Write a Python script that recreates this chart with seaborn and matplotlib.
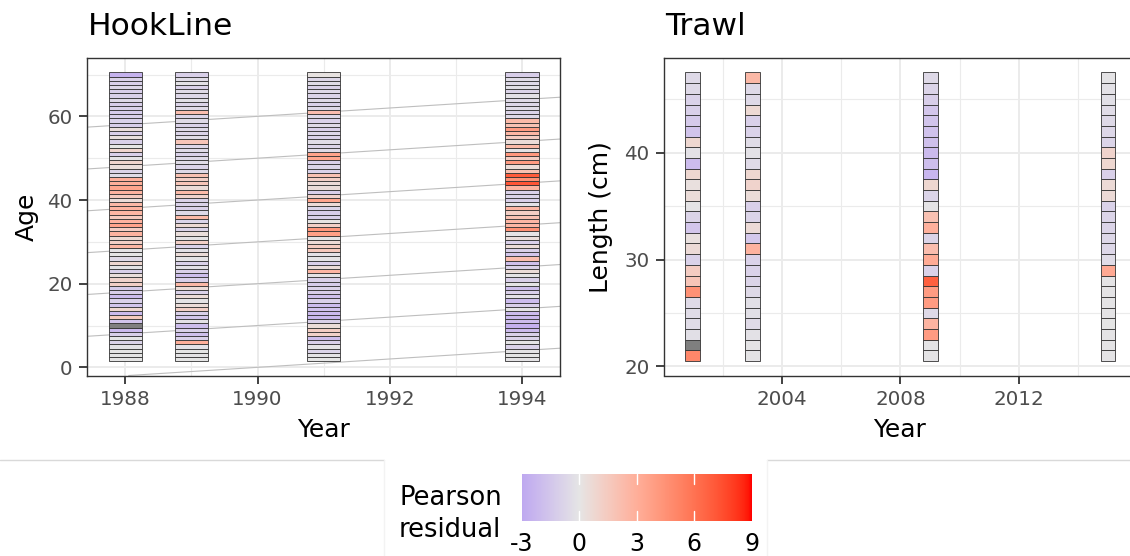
import numpy as np
import pandas as pd
import matplotlib
matplotlib.use("Agg")
import matplotlib.pyplot as plt
from matplotlib.colors import ListedColormap, Normalize
from matplotlib.ticker import MultipleLocator
from matplotlib.lines import Line2D
import seaborn as sns

# ---------------------------------------------------------------- data
hook_years = [1988, 1989, 1991, 1994]
hook_ages = list(range(2, 71))
# Pearson residuals by age (2 .. 70)
hook_1988 = [0.0, 0.0, 0.0, -0.2, -0.9, 0.0, -1.0, -2.1, -3.6,
             -1.6, 1.5, -2.1, 0.8, -1.6, -1.0, -2.0, -1.1, -1.2, 1.2,
             1.0, 0.4, -1.0, -0.1, 0.8, -0.5, 0.0, -0.1, 2.6, 1.2,
             0.7, 2.8, 1.4, 3.6, 2.8, 1.5, 2.6, 2.7, 2.5, 0.5,
             1.5, 2.8, 3.5, 3.0, 2.9, -0.4, -0.8, 0.4, 0.9, -0.1,
             -1.0, 0.9, 0.0, -1.0, 0.3, -1.0, 0.4, -1.1, -0.9, -1.0,
             -1.2, -0.9, -1.1, -0.6, -1.0, -1.1, -0.7, -1.0, -0.9, -2.5]
hook_1989 = [0.0, -0.1, 0.0, -0.2, 3.0, -1.0, -1.8, -1.0, -1.9,
             -0.2, -1.5, -1.0, 1.2, 0.5, -0.1, 0.5, -0.9, 0.5, 2.5,
             -1.0, -1.9, -1.0, -0.2, -0.9, -0.1, 0.5, -0.2, -0.9, 1.2,
             -0.1, 0.4, -0.8, 0.7, -0.8, 2.4, -0.6, -1.0, -0.9, -0.9,
             1.0, 2.4, 0.5, 1.8, 1.2, 2.0, -0.6, -0.8, -0.4, -0.6,
             -0.9, -0.5, -0.7, 1.8, -0.4, -0.8, -0.6, -0.9, -0.5, -0.8,
             2.2, -0.5, -0.8, -0.3, -0.7, -0.5, -0.9, -0.2, -0.4, -1.0]
hook_1991 = [0.0, -0.1, -0.8, -0.1, -1.0, -1.9, 1.1, 1.3, 0.5,
             -1.0, -2.2, -2.1, -1.7, -2.0, -1.0, -1.8, -1.1, -0.9, -1.2,
             -1.0, -0.1, 2.6, 0.5, -1.0, -0.1, -0.2, 1.6, 1.4, 0.6,
             -0.1, 3.8, 4.2, 1.2, 0.1, -1.0, -1.1, -0.8, 0.6, 3.5,
             1.0, -1.0, 0.5, 0.6, 1.2, 2.0, -0.9, -0.8, -1.0, 3.4,
             3.6, -0.5, -0.8, -0.4, -0.9, -0.7, -1.0, -0.5, -0.9, -0.6,
             2.2, -0.6, -0.9, -0.5, -0.8, -0.6, -0.9, -0.4, -0.7, 0.2]
hook_1994 = [-0.1, 0.0, -0.1, -0.9, -0.1, -0.9, -1.0, -2.1, -2.6,
             -2.0, -2.1, -2.0, -0.1, -1.1, -2.0, -0.2, -1.0, -1.9, -0.1,
             -1.0, -0.1, 0.5, -0.9, -1.8, 2.2, -1.5, -1.0, 0.5, -1.0,
             0.4, -0.1, 4.5, 2.6, 2.6, 2.0, 1.3, 2.6, -0.2, -1.0,
             -0.8, -0.9, 2.8, 7.2, 4.5, 7.0, 2.0, 0.5, 4.0, 1.4,
             4.2, -0.1, 2.4, 0.5, 1.4, 2.6, 4.0, 2.0, 2.4, -0.6,
             -0.8, -0.4, -0.7, -0.5, -0.2, -0.8, -0.3, -0.6, -0.4, -1.1]
cohorts = list(range(1930, 2000, 10))

trawl_years = [2001, 2003, 2009, 2015]
trawl_lengths = list(range(21, 48))
# Pearson residuals by length bin (21 .. 47 cm)
trawl_2001 = [5.0, -3.6, -0.3, -0.4, -0.4, -0.5, 4.5, 1.8, 1.4, -0.9,
              0.6, 0.3, -1.5, -0.8, -0.1, 0.5, 0.3, 0.8, -2.0, -0.2,
              0.8, -1.6, -1.3, -1.0, -0.9, -0.6, -0.6]
trawl_2003 = [-0.1, -0.1, -0.2, -0.5, -0.3, -0.3, -0.6, -0.8, -0.9, -0.9,
              2.8, -1.4, 0.6, -0.8, -1.0, 0.5, 1.0, 0.8, -0.5, -0.2,
              -0.4, -0.9, -1.0, 0.7, -0.6, -0.6, 2.5]
trawl_2009 = [-0.1, -0.1, 4.0, 2.7, -0.6, 4.0, 4.0, 6.8, -0.9, 3.2,
              2.2, -0.8, 2.9, 2.0, -0.1, -0.8, 0.8, -2.3, -1.9, -2.1,
              -1.8, -1.7, -1.6, -1.5, -1.1, -0.8, -0.6]
trawl_2015 = [-0.1, -0.1, -0.1, 0.0, -0.1, -0.1, -0.1, -0.1, 3.3, -0.4,
              -0.7, -0.7, -0.8, -0.8, -0.9, 0.6, 0.6, -1.0, 0.8, 1.0,
              -0.8, -0.7, -0.6, -0.4, -0.3, -0.2, -0.1]

colorbar_ticks = [-3, 0, 3, 6, 9]

hook = pd.DataFrame({
    "year": np.repeat(hook_years, len(hook_ages)),
    "bin": np.tile(hook_ages, len(hook_years)),
    "resid": np.concatenate([hook_1988, hook_1989, hook_1991, hook_1994]),
})
trawl = pd.DataFrame({
    "year": np.repeat(trawl_years, len(trawl_lengths)),
    "bin": np.tile(trawl_lengths, len(trawl_years)),
    "resid": np.concatenate([trawl_2001, trawl_2003, trawl_2009, trawl_2015]),
})

# ------------------------------------------------------- colour scale
def _lin(c):
    c = np.asarray(c, float) / 255.0
    return np.where(c <= 0.04045, c / 12.92, ((c + 0.055) / 1.055) ** 2.4)

def _gamma(c):
    c = np.clip(c, 0, 1)
    return np.where(c <= 0.0031308, 12.92 * c, 1.055 * c ** (1 / 2.4) - 0.055)

_M = np.array([[0.4124, 0.3576, 0.1805],
               [0.2126, 0.7152, 0.0722],
               [0.0193, 0.1192, 0.9505]])
_WHITE = np.array([0.95047, 1.0, 1.08883])
_D = 6 / 29

def to_lab(rgb):
    xyz = _M @ _lin(rgb) / _WHITE
    f = np.where(xyz > _D ** 3, np.cbrt(xyz), xyz / (3 * _D * _D) + 4 / 29)
    return np.array([116 * f[1] - 16, 500 * (f[0] - f[1]), 200 * (f[1] - f[2])])

def from_lab(lab):
    fy = (lab[0] + 16) / 116
    f = np.array([fy + lab[1] / 500, fy, fy - lab[2] / 200])
    xyz = np.where(f > _D, f ** 3, 3 * _D * _D * (f - 4 / 29)) * _WHITE
    return _gamma(np.linalg.solve(_M, xyz))

low_lab = to_lab([190, 168, 240])
mid_lab = to_lab([229, 229, 229])
high_lab = to_lab([255, 0, 0])
vmin, vmax = -3.0, 9.0
levels = np.linspace(vmin, vmax, 512)
cols = []
for v in levels:
    if v < 0:
        t = (v - vmin) / (0 - vmin)
        lab = low_lab + t * (mid_lab - low_lab)
    else:
        t = v / vmax
        lab = mid_lab + t * (high_lab - mid_lab)
    cols.append(from_lab(lab))
cmap = ListedColormap(np.array(cols), name="resid")
cmap.set_under("#7F7F7F")
norm = Normalize(vmin=vmin, vmax=vmax)

# ------------------------------------------------------------ figure
sns.set_theme(style="whitegrid")
plt.rcParams["font.family"] = ["DejaVu Sans"]
plt.rcParams["text.color"] = "black"

W, H = 1130, 556
fig = plt.figure(figsize=(W / 100, H / 100), dpi=100)
fig.patch.set_facecolor("white")

def box(l, t, r, b):
    return [l / W, 1 - b / H, (r - l) / W, (b - t) / H]

ax1 = fig.add_axes(box(87.3, 58, 560, 375.5))
ax2 = fig.add_axes(box(664, 58, 1137, 375.5))

def draw_tiles(ax, df):
    ax.bar(df["year"], 1.0, width=0.5, bottom=df["bin"] - 0.5,
           color=cmap(norm(df["resid"].to_numpy())),
           edgecolor="#333333", linewidth=0.6, zorder=3)

for c in cohorts:
    ax1.axline((c, 0), slope=1, color="#BEBEBE", lw=0.8, zorder=2)
draw_tiles(ax1, hook)
draw_tiles(ax2, trawl)

ax1.set_xlim(1987.425, 1994.575)
ax1.set_ylim(-1.95, 73.95)
ax1.xaxis.set_major_locator(MultipleLocator(2))
ax1.xaxis.set_minor_locator(MultipleLocator(1))
ax1.yaxis.set_major_locator(MultipleLocator(20))
ax1.yaxis.set_minor_locator(MultipleLocator(10))

ax2.set_xlim(2000.025, 2015.975)
ax2.set_ylim(19.15, 48.85)
ax2.xaxis.set_major_locator(MultipleLocator(4))
ax2.xaxis.set_minor_locator(MultipleLocator(2))
ax2.yaxis.set_major_locator(MultipleLocator(10))
ax2.yaxis.set_minor_locator(MultipleLocator(5))

for ax in (ax1, ax2):
    ax.set_facecolor("white")
    ax.set_axisbelow(True)
    ax.grid(which="major", color="#EBEBEB", lw=1.4)
    ax.grid(which="minor", color="#EBEBEB", lw=0.8)
    for s in ax.spines.values():
        s.set_color("#333333")
        s.set_linewidth(1.0)
    ax.tick_params(which="major", bottom=True, left=True, length=6,
                   width=1.3, color="#333333", labelcolor="#4D4D4D",
                   labelsize=14.3, pad=4.5)
    ax.tick_params(which="minor", length=0)
    ax.set_xlabel("")
    ax.set_ylabel("")

# titles and axis titles
fig.text(88 / W, 1 - 35 / H, "HookLine", fontsize=22.5, ha="left", va="baseline")
fig.text(665 / W, 1 - 35 / H, "Trawl", fontsize=22.5, ha="left", va="baseline")
fig.text(323.7 / W, 1 - 437 / H, "Year", fontsize=18, ha="center", va="baseline")
fig.text(900 / W, 1 - 437 / H, "Year", fontsize=18, ha="center", va="baseline")
fig.text(27 / W, 1 - 216.7 / H, "Age", fontsize=18, rotation=90,
         ha="center", va="center")
fig.text(601 / W, 1 - 216.7 / H, "Length (cm)", fontsize=18, rotation=90,
         ha="center", va="center")

# legend strip
y_line = 1 - 460 / H
fig.add_artist(Line2D([0, 384 / W], [y_line, y_line], color="#D9D9D9", lw=1.0))
fig.add_artist(Line2D([767 / W, 1], [y_line, y_line], color="#D9D9D9", lw=1.0))
for xv in (384, 767):
    fig.add_artist(Line2D([xv / W, xv / W], [0, y_line], color="#F3F3F3", lw=1.0))

cax = fig.add_axes(box(521.7, 474.3, 751.7, 520.7))
sm = matplotlib.cm.ScalarMappable(norm=norm, cmap=cmap)
cbar = fig.colorbar(sm, cax=cax, orientation="horizontal", ticks=colorbar_ticks)
cbar.outline.set_visible(False)
cax.tick_params(length=0, labelsize=17, labelcolor="black", pad=8)
cax.set_xticklabels([str(t) for t in colorbar_ticks])
for t in colorbar_ticks[1:-1]:
    cax.axvline(t, 0, 0.2, color="white", lw=1.0)
    cax.axvline(t, 0.8, 1.0, color="white", lw=1.0)

fig.text(399 / W, 1 - 505 / H, "Pearson", fontsize=18.5, ha="left", va="baseline")
fig.text(399 / W, 1 - 537 / H, "residual", fontsize=18.5, ha="left", va="baseline")

fig.savefig("out.png", dpi=100, facecolor="white")
